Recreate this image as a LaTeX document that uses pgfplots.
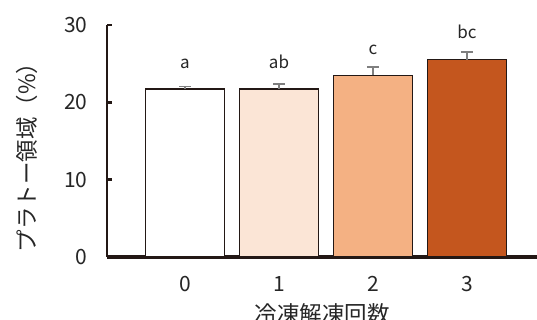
\documentclass[border=0pt]{standalone}
\usepackage{pgfplots}
\pgfplotsset{compat=1.18}
\usepackage{fontspec}
\setmainfont{Noto Sans CJK JP}
\definecolor{edge}{HTML}{231815}
\definecolor{cA}{HTML}{FFFFFF}
\definecolor{cB}{HTML}{FBE5D6}
\definecolor{cC}{HTML}{F4B183}
\definecolor{cD}{HTML}{C4561E}
\definecolor{errc}{HTML}{7F7F7F}
\begin{document}
\begin{tikzpicture}[x=1pt,y=1pt]
\useasboundingbox (0,0) rectangle (537,320);
\begin{axis}[
  at={(107pt,63pt)}, anchor=south west,
  scale only axis,
  width=430pt, height=232pt,
  xmin=-0.83, xmax=3.745,
  ymin=0, ymax=30,
  axis x line*=bottom, axis y line*=left,
  x axis line style={line width=3.5pt, color=edge, -},
  y axis line style={line width=2.6pt, color=edge, -},
  xtick={0,1,2,3}, xticklabels={0,1,2,3},
  ytick={0,10,20,30},
  major tick length=5pt,
  tick style={line width=2.6pt, color=edge},
  xtick style={draw=none},
  ytick align=inside,
  /pgf/number format/assume math mode=true,
  tick label style={font=\fontsize{21}{21}\selectfont, color=black!85},
  yticklabel style={xshift=-16pt},
  xticklabel style={yshift=-16pt},
  ylabel={プラトー領域（\%）},
  ylabel style={font=\fontsize{22.5}{22.5}\selectfont, color=black!85, at={(ticklabel cs:0.5)}, xshift=-11pt, yshift=20pt},
  xlabel={冷凍解凍回数},
  xlabel style={font=\fontsize{22.5}{22.5}\selectfont, color=black!85, yshift=-5pt},
  clip=false,
  every node near coord/.append style={anchor=base, inner sep=0pt, yshift=21pt, font=\fontsize{17}{17}\selectfont, color=black!85},
  error bars/y dir=plus, error bars/y explicit,
  error bars/error bar style={line width=1.6pt, color=errc},
  error bars/error mark options={rotate=90, mark size=6pt, line width=1.6pt, color=errc},
]
\addplot[ybar, bar width=79pt, bar shift=0pt, fill=cA, draw=edge, line width=1.4pt,
  nodes near coords, point meta=explicit symbolic]
  coordinates {(0,21.7) +- (0,0.35) [a]};
\addplot[ybar, bar width=79pt, bar shift=0pt, fill=cB, draw=edge, line width=1.4pt,
  nodes near coords, point meta=explicit symbolic]
  coordinates {(1,21.7) +- (0,0.7) [ab]};
\addplot[ybar, bar width=79pt, bar shift=0pt, fill=cC, draw=edge, line width=1.4pt,
  nodes near coords, point meta=explicit symbolic]
  coordinates {(2,23.5) +- (0,1.1) [c]};
\addplot[ybar, bar width=79pt, bar shift=0pt, fill=cD, draw=edge, line width=1.4pt,
  nodes near coords, point meta=explicit symbolic]
  coordinates {(3,25.5) +- (0,1.0) [bc]};
\end{axis}
\end{tikzpicture}
\end{document}
